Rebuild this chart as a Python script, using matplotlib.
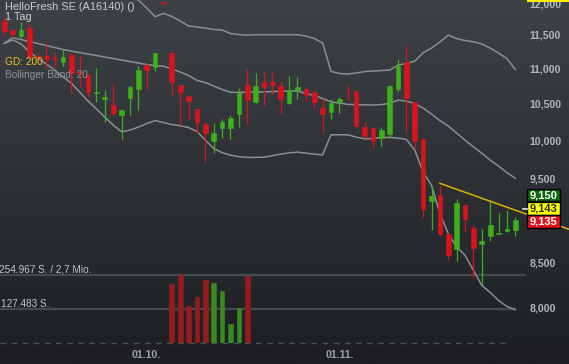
import numpy as np
import matplotlib
matplotlib.use("Agg")
import matplotlib.pyplot as plt
from matplotlib.patches import Rectangle
from matplotlib.lines import Line2D
from matplotlib.transforms import IdentityTransform
from matplotlib.ticker import FixedLocator, FuncFormatter, NullLocator, NullFormatter

plt.rcParams['font.family'] = ['Liberation Sans', 'DejaVu Sans']

# --- daily candles (index 0 = first visible day) ---
open_ = [11716, 11576, 11488, 11611, 11186, 11182, 11152, 11098, 11197, 10950,
         10903, 10650, 10564, 10476, 10338, 10578, 10701, 11049, 11024, 12010,
         11222, 10759, 10602, 10420, 10214, 9989, 10156, 10165, 10351, 10759,
         10522, 10802, 10802, 10744, 10500, 10687, 10697, 10659, 10438, 10384,
         10522, 10680, 10677, 10169, 10165, 10030, 10079, 10697, 11093, 10518,
         10008, 9221, 9292, 8829, 8655, 9169, 8895, 8713, 8801, 8825,
         8856, 8868]
high = [11773, 11590, 11705, 11690, 11222, 11373, 11222, 11272, 11222, 11197,
        10928, 11001, 10687, 10768, 10410, 10758, 11035, 11083, 11231, 12010,
        11247, 10765, 10608, 10425, 10246, 10224, 10278, 10338, 10711, 10986,
        10928, 10951, 10951, 10816, 10889, 10879, 10725, 10665, 10570, 10560,
        10593, 10773, 10680, 10237, 10170, 10169, 10759, 11133, 11332, 10525,
        10010, 9395, 9404, 8835, 9242, 9175, 8927, 8880, 9239, 9080,
        9116, 9027]
low = [11484, 11448, 11457, 11147, 11123, 11000, 11000, 11024, 10640, 10734,
       10593, 10522, 10246, 10338, 10008, 10338, 10407, 10687, 10966, 12000,
       10616, 10201, 10278, 10097, 9706, 9823, 10022, 10008, 10178, 10210,
       10500, 10476, 10631, 10347, 10490, 10564, 10536, 10438, 10097, 10287,
       10369, 10546, 10169, 10043, 9888, 9923, 10035, 10663, 10110, 9888,
       9027, 8868, 8817, 8521, 8513, 8848, 8326, 8241, 8739, 8821,
       8848, 8797]
close = [11561, 11510, 11576, 11171, 11171, 11141, 11145, 11162, 10937, 10930,
         10663, 10660, 10593, 10361, 10407, 10725, 10976, 10976, 11222, 12000,
         10806, 10663, 10536, 10246, 10089, 10089, 10242, 10300, 10649, 10546,
         10744, 10734, 10759, 10564, 10687, 10725, 10616, 10522, 10355, 10504,
         10564, 10670, 10191, 10052, 9985, 10133, 10744, 11039, 10578, 9985,
         9120, 9280, 8829, 8577, 9202, 8999, 8661, 8739, 8936, 8836,
         8880, 8987]

# --- Bollinger Band (20) ---
bb_upper = [12400, 12450, 12500, 12520, 12500, 12480, 12450, 12420, 12380, 12340,
            12300, 12260, 12220, 12180, 12140, 12090, 12048, 11920, 11783, 11836,
            11786, 11716, 11638, 11623, 11607, 11584, 11576, 11522, 11507, 11499,
            11504, 11504, 11504, 11504, 11504, 11504, 11484, 11446, 11378, 10957,
            10925, 10918, 10932, 10954, 10961, 10969, 10976, 11049, 11071, 11108,
            11231, 11302, 11393, 11499, 11446, 11415, 11397, 11363, 11302, 11227,
            11142, 10986]
bb_mid = [11373, 11458, 11431, 11400, 11370, 11340, 11310, 11280, 11257, 11234,
          11212, 11190, 11167, 11145, 11123, 11101, 11079, 11057, 11042, 11032,
          10995, 10947, 10896, 10826, 10795, 10744, 10697, 10655, 10655, 10655,
          10659, 10662, 10666, 10670, 10673, 10677, 10638, 10613, 10568, 10521,
          10504, 10486, 10483, 10479, 10476, 10483, 10500, 10546, 10532, 10497,
          10434, 10351, 10262, 10188, 10093, 9999, 9910, 9827, 9736, 9659,
          9576, 9503]
bb_lower = [11373, 11423, 11363, 11242, 11153, 11064, 10976, 10874, 10787, 10659,
            10532, 10421, 10310, 10201, 10110, 10133, 10174, 10221, 10262, 10235,
            10208, 10192, 10167, 10113, 9999, 9888, 9833, 9800, 9781, 9771,
            9772, 9774, 9794, 9814, 9831, 9840, 9827, 9814, 9805, 10070,
            10070, 10070, 10039, 10016, 10021, 10032, 10035, 10026, 10008, 9866,
            9581, 9416, 9068, 8829, 8673, 8578, 8408, 8241, 8165, 8078,
            8014, 7979]

# --- volume (only part of the days) ---
vol_idx = [20, 21, 22, 23, 24, 25, 26, 27, 28, 29]
volume = [223500, 254967, 139900, 172500, 238500, 227200, 196100, 71200, 133500, 251200]
vol_max = 254967
vol_mid = 127483

trend_x = [52, 70]
trend_y = [9440, 8790]

date_pos = [17, 40]
date_labels = ['01.10.', '01.11.']
price_ticks = [8000, 8500, 9500, 10000, 10500, 11000, 11500, 12000]

quote_labels = ['9,150', '9,143', '9,135']
quote_ref = 9143

W, H = 569, 364
X0, DX = 4.3, 8.377
AX_R = 522

RED = '#d8141c'
GREEN = '#3db01c'
BAND = '#8b8f93'

fig = plt.figure(figsize=(W / 100, H / 100), dpi=100)

# background gradient
bg = fig.add_axes([0, 0, 1, 1])
bg.set_zorder(-5)
grad = np.linspace(0, 1, 256).reshape(-1, 1)
top = np.array([0x3d, 0x42, 0x46]) / 255
bot = np.array([0x1c, 0x1e, 0x22]) / 255
img = top + (bot - top) * grad[..., None]
bg.imshow(img, aspect='auto', extent=[0, 1, 0, 1])
bg.axis('off')

xlim = (-X0 / DX, (AX_R - X0) / DX)

# volume axes
axv = fig.add_axes([0, (H - 343.3) / H, AX_R / W, 68 / H])
axv.set_facecolor('none')
axv.set_xlim(xlim)
axv.set_ylim(0, vol_max)
vcol = ['#3a8a22' if close[i] >= open_[i] else '#961c1c' for i in vol_idx]
axv.bar(vol_idx, volume, width=0.56, color=vcol, edgecolor=vcol, lw=0.4)
axv.axhline(vol_max, color='#46494d', lw=1.6, xmax=525 / AX_R, clip_on=False, zorder=0)
axv.axhline(vol_mid, color='#46494d', lw=1.6, xmax=515 / AX_R, clip_on=False, zorder=0)
axv.axhline(0, color='#4c5055', lw=1, ls=(0, (4, 4)), xmax=510 / AX_R, clip_on=False)
for s in axv.spines.values():
    s.set_visible(False)
axv.set_yticks([])
axv.set_xticks(date_pos)
axv.set_xticklabels(date_labels)
axv.tick_params(axis='x', length=0, pad=4.5, labelsize=7.6, labelcolor='#9da1a5')
for t in axv.get_xticklabels():
    t.set_fontweight('bold')
axv.annotate('254.967 S. / 2,7 Mio.', xy=(0, vol_max), xycoords=('axes fraction', 'data'),
             xytext=(-1, 2.5), textcoords='offset pixels', va='baseline', ha='left',
             fontsize=7.2, color='#c3c6c9', annotation_clip=False)
axv.annotate('127.483 S.', xy=(0, vol_mid), xycoords=('axes fraction', 'data'),
             xytext=(1, 2.5), textcoords='offset pixels', va='baseline', ha='left',
             fontsize=7.2, color='#c3c6c9', annotation_clip=False)

# price axes
ax = fig.add_axes([0, 0, AX_R / W, 1])
ax.set_facecolor('none')
ax.set_yscale('log')
ax.set_xlim(xlim)
ax.set_ylim(7423, 12048)
for s in ax.spines.values():
    s.set_visible(False)

idx = np.arange(len(open_))
o = np.array(open_, float)
h = np.array(high, float)
l = np.array(low, float)
c = np.array(close, float)
cols = np.where(c >= o, GREEN, RED)

ax.plot(idx, bb_upper, color=BAND, lw=1.1, zorder=1)
ax.plot(idx, bb_mid, color=BAND, lw=1.1, zorder=1)
ax.plot(idx, bb_lower, color=BAND, lw=1.1, zorder=1)

ax.vlines(idx, l, h, colors=cols, lw=0.9, zorder=2)
ax.bar(idx, np.abs(c - o), bottom=np.minimum(o, c), width=0.56,
       color=cols, edgecolor=cols, lw=0.4, zorder=3)

ax.plot(trend_x, trend_y, color='#dcb400', lw=1.1, clip_on=False, zorder=4)

ax.xaxis.set_visible(False)
ax.yaxis.tick_right()
ax.yaxis.set_major_locator(FixedLocator(price_ticks))
ax.yaxis.set_minor_locator(NullLocator())
ax.yaxis.set_minor_formatter(NullFormatter())
ax.yaxis.set_major_formatter(FuncFormatter(lambda v, p: f"{v:,.0f}"))
ax.tick_params(axis='y', length=0, pad=5.3, labelsize=7.6, labelcolor='#b2b6ba')
for t in ax.get_yticklabels():
    t.set_fontweight('bold')

# header texts
fig.text(5 / W, 1 - 10 / H, 'HelloFresh SE (A16140) ()', fontsize=7.9, color='#c9ccd0', va='baseline')
fig.text(5 / W, 1 - 20 / H, '1 Tag', fontsize=7.9, color='#c9ccd0', va='baseline')
fig.text(5 / W, 1 - 65 / H, 'GD: 200', fontsize=7.3, color='#efc31a', va='baseline')
fig.text(5 / W, 1 - 78.3 / H, 'Bollinger Band: 20', fontsize=7.3, color='#8f9397', va='baseline')

# quote boxes on the price scale
fig.canvas.draw()
yq = ax.transData.transform((0, quote_ref))[1]
box_fc = ['#0c680c', '#ffff00', '#e3101c']
box_tc = ['white', '#303030', 'white']
for k, (lab, fc, tc) in enumerate(zip(quote_labels, box_fc, box_tc)):
    cy = yq + (1 - k) * 13.2 - 1
    fig.add_artist(Rectangle((527, cy - 6.3), 32.5, 12.6, transform=IdentityTransform(),
                             facecolor=fc, edgecolor='black', lw=1, zorder=5))
    fig.text(543.3, cy - 0.3, lab, transform=IdentityTransform(), ha='center', va='center',
             fontsize=8, fontweight='bold', color=tc, zorder=6)
fig.add_artist(Line2D([522.5, 527], [yq - 1.5, yq - 1.5], transform=IdentityTransform(),
                      color='#e6e6e6', lw=1.2, zorder=5))
fig.add_artist(Rectangle((527, H - 2.2), 42, 2.2, transform=IdentityTransform(),
                         facecolor='#fff000', edgecolor='none', zorder=5))

fig.savefig('out.png', dpi=100)
